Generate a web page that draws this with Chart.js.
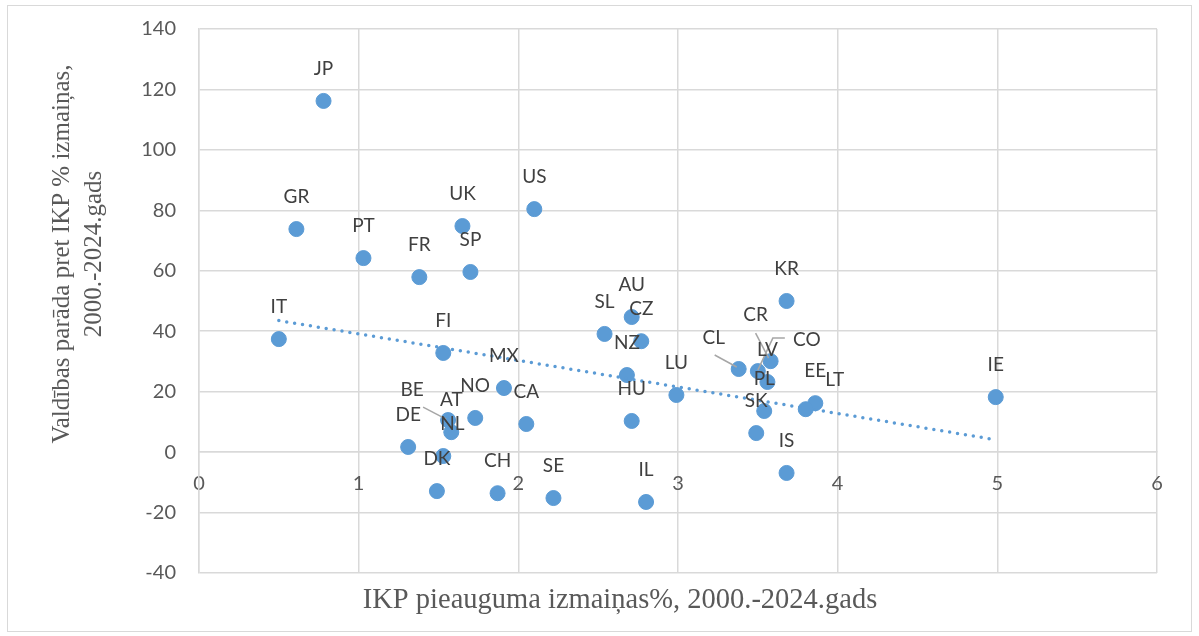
<!DOCTYPE html>
<html>
<head>
<meta charset="utf-8">
<script src="https://cdn.jsdelivr.net/npm/chart.js@4.4.1/dist/chart.umd.min.js"></script>
<style>
  html, body { margin: 0; padding: 0; background: #fff; }
  #wrap { width: 1199px; height: 636px; position: relative; }
</style>
</head>
<body>
<div id="wrap"><canvas id="chart"></canvas></div>
<script>
// Country codes and values
const countries = ['JP', 'GR', 'PT', 'FR', 'UK', 'SP', 'US', 'IT', 'FI', 'MX', 'NO', 'CA', 'BE', 'AT', 'DE', 'NL', 'DK', 'CH', 'SE', 'IL',
                   'AU', 'SL', 'CZ', 'NZ', 'HU', 'LU', 'KR', 'CL', 'CO', 'CR', 'LV', 'PL', 'SK', 'IS', 'EE', 'LT', 'IE'];
const gdpGrowth = [0.78, 0.61, 1.03, 1.38, 1.65, 1.70, 2.10, 0.50, 1.53, 1.91, 1.73, 2.05, 1.56, 1.58, 1.31, 1.53, 1.49, 1.87, 2.22, 2.80,
                   2.71, 2.54, 2.77, 2.68, 2.71, 2.99, 3.68, 3.38, 3.50, 3.58, 3.56, 3.54, 3.49, 3.68, 3.86, 3.80, 4.99];
const debtChange = [116.2, 73.8, 64.2, 57.9, 74.8, 59.6, 80.4, 37.4, 32.8, 21.2, 11.3, 9.3, 10.6, 6.6, 1.7, -1.3, -12.9, -13.6, -15.2, -16.5,
                    44.7, 39.1, 36.7, 25.5, 10.3, 18.9, 50.0, 27.5, 26.8, 30.1, 23.2, 13.6, 6.3, -6.9, 16.2, 14.2, 18.2];
const xTicks = [0, 1, 2, 3, 4, 5, 6];
const yTicks = [-40, -20, 0, 20, 40, 60, 80, 100, 120, 140];

const xTitle = 'IKP pieauguma izmaiņas%, 2000.-2024.gads';
const yTitle = ['Valdības parāda pret IKP % izmaiņas,', '2000.-2024.gads'];

// label placement tweaks (pixels from the point), default is straight above
const labelOffsets = {
    BE: [-36, -30], NL: [9, -32], CL: [-25, -31], CR: [-15, -46], CO: [49, -31], LT: [29, -29]
};
// leader lines, as points relative to the marker
const leaders = {
    BE: [[-25, -13], [-2, -1]],
    CL: [[-24, -14], [-2, -2]],
    CR: [[-15, -28], [-2, -3]],
    CO: [[27, -33], [15, -33], [0, -1]]
};

const points = countries.map((c, i) => ({ x: gdpGrowth[i], y: debtChange[i] }));

// linear trend (least squares) over the data, drawn from min to max x
const n = points.length;
const mx = gdpGrowth.reduce((a, b) => a + b, 0) / n;
const my = debtChange.reduce((a, b) => a + b, 0) / n;
let sxy = 0, sxx = 0;
points.forEach(p => { sxy += (p.x - mx) * (p.y - my); sxx += (p.x - mx) * (p.x - mx); });
const slope = sxy / sxx;
const intercept = my - slope * mx;
const xMin = Math.min(...gdpGrowth), xMax = Math.max(...gdpGrowth);
const trend = [{ x: xMin, y: intercept + slope * xMin }, { x: xMax, y: intercept + slope * xMax }];

const gridColor = '#d9d9d9';
const textColor = '#595959';

const pointLabels = {
    id: 'pointLabels',
    afterDatasetsDraw(chart) {
        const ctx = chart.ctx;
        const meta = chart.getDatasetMeta(1);
        ctx.save();
        ctx.font = '19px Lato';
        ctx.fillStyle = '#404040';
        ctx.textAlign = 'center';
        ctx.textBaseline = 'middle';
        meta.data.forEach((pt, i) => {
            const code = countries[i];
            const lead = leaders[code];
            if (lead) {
                ctx.beginPath();
                ctx.strokeStyle = '#a6a6a6';
                ctx.lineWidth = 1.5;
                lead.forEach((p, k) => {
                    if (k === 0) ctx.moveTo(pt.x + p[0], pt.y + p[1]);
                    else ctx.lineTo(pt.x + p[0], pt.y + p[1]);
                });
                ctx.stroke();
            }
            const off = labelOffsets[code] || [0, -32];
            ctx.fillText(code, pt.x + off[0], pt.y + off[1]);
        });
        ctx.restore();
    }
};

const frameAndTitles = {
    id: 'frameAndTitles',
    beforeDraw(chart) {
        const ctx = chart.ctx;
        ctx.save();
        ctx.fillStyle = '#fff';
        ctx.fillRect(0, 0, chart.width, chart.height);
        ctx.strokeStyle = gridColor;
        ctx.lineWidth = 1;
        ctx.strokeRect(7.5, 5.5, 1184, 626);
        ctx.restore();
    },
    afterDraw(chart) {
        const ctx = chart.ctx;
        ctx.save();
        ctx.fillStyle = textColor;
        ctx.textAlign = 'center';
        ctx.textBaseline = 'middle';
        ctx.font = '28.5px "Liberation Serif"';
        ctx.fillText(xTitle, 620, 601);
        ctx.translate(78, 254);
        ctx.rotate(-Math.PI / 2);
        ctx.font = '25px "Liberation Serif"';
        ctx.fillText(yTitle[0], 0, -16);
        ctx.fillText(yTitle[1], 0, 16);
        ctx.restore();
    }
};

new Chart(document.getElementById('chart'), {
    type: 'scatter',
    data: {
        datasets: [
            {
                type: 'line',
                label: 'Trend',
                data: trend,
                borderColor: '#5b9bd5',
                borderWidth: 3.5,
                borderDash: [0, 8],
                borderCapStyle: 'round',
                pointRadius: 0,
                fill: false
            },
            {
                label: 'Countries',
                data: points,
                backgroundColor: '#5b9bd5',
                borderColor: '#5b9bd5',
                pointRadius: 7.5,
                pointHoverRadius: 7.5
            }
        ]
    },
    options: {
        responsive: true,
        maintainAspectRatio: false,
        animation: false,
        layout: { padding: { left: 0, top: 29, right: 42, bottom: 63 } },
        plugins: {
            legend: { display: false },
            tooltip: { enabled: false }
        },
        scales: {
            x: {
                type: 'linear',
                position: { y: 0 },
                min: 0,
                max: 6,
                afterBuildTicks: s => { s.ticks = xTicks.map(v => ({ value: v })); },
                grid: { color: gridColor, lineWidth: 1.5, drawTicks: false },
                border: { color: gridColor, width: 1.5 },
                ticks: { color: textColor, font: { family: 'Lato', size: 20 }, padding: 19 }
            },
            y: {
                type: 'linear',
                min: -40,
                max: 140,
                afterBuildTicks: s => { s.ticks = yTicks.map(v => ({ value: v })); },
                afterFit: s => { s.width = 199; s.paddingTop = 0; s.paddingBottom = 0; },
                grid: { color: gridColor, lineWidth: 1.5, drawTicks: false },
                border: { color: gridColor, width: 1.5 },
                ticks: { color: textColor, font: { family: 'Lato', size: 20 }, padding: 23 }
            }
        }
    },
    plugins: [frameAndTitles, pointLabels]
});
</script>
</body>
</html>
